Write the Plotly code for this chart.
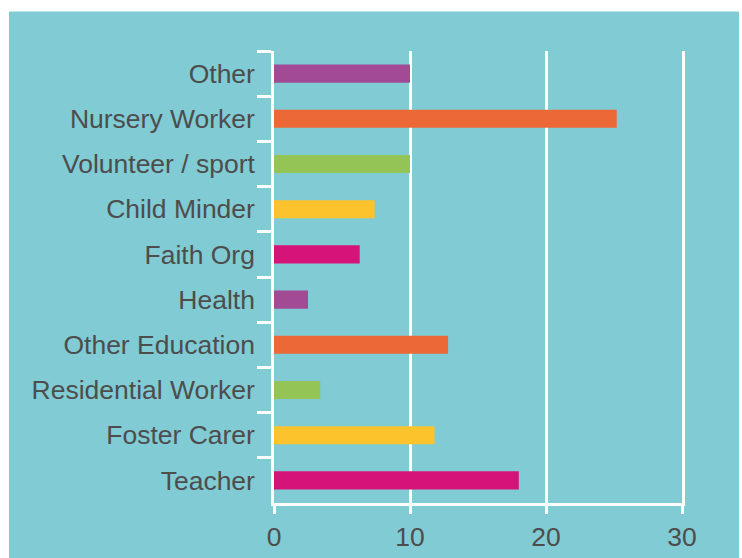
import plotly.graph_objects as go

categories = ["Other", "Nursery Worker", "Volunteer / sport", "Child Minder", "Faith Org",
              "Health", "Other Education", "Residential Worker", "Foster Carer", "Teacher"]
values = [10.0, 25.2, 10.0, 7.4, 6.3, 2.5, 12.8, 3.4, 11.8, 18.0]
bar_colors = ["#A24B94", "#EC6837", "#93C455", "#FDC32D", "#D51378",
              "#A24B94", "#EC6837", "#93C455", "#FDC32D", "#D51378"]
x_ticks = [0, 10, 20, 30]

W, H = 742, 558
L = 274
T = 50.5
R = W - 682
B = H - 503.5
teal = "#80CBD4"
txt = "#4D4D4D"
fs = 26.5

fig = go.Figure(go.Bar(
    y=categories, x=values, orientation="h",
    marker=dict(color=bar_colors, line=dict(width=0)),
    width=0.4,
))

pw = W - L - R
ph = H - T - B
# teal panel from pixel (9,11) to (739,558)
fig.add_shape(type="rect", xref="paper", yref="paper", layer="below",
              x0=(9 - L) / pw, x1=(739 - L) / pw,
              y0=(H - B - 560) / ph, y1=(H - B - 11) / ph,
              fillcolor=teal, line=dict(width=0))

fig.update_layout(
    width=W, height=H,
    margin=dict(l=L, r=R, t=T, b=B, pad=0, autoexpand=False),
    paper_bgcolor="white", plot_bgcolor=teal,
    showlegend=False,
    font=dict(family="Liberation Sans, Arial, sans-serif", size=fs, color=txt),
)
fig.update_xaxes(
    range=[0, 30], tickvals=x_ticks, ticktext=[str(v) for v in x_ticks],
    showgrid=True, gridcolor="white", gridwidth=2.5,
    showline=True, linecolor="white", linewidth=2.5,
    ticks="outside", ticklen=8, tickwidth=2.5, tickcolor="white",
    zeroline=False, tickfont=dict(size=fs, color=txt), automargin=False,
)
fig.update_yaxes(
    autorange="reversed", type="category",
    showline=True, linecolor="white", linewidth=2.5, mirror=True,
    ticks="outside", tickson="boundaries", ticklen=14, tickwidth=2.5, tickcolor="white",
    showgrid=False, zeroline=False, tickfont=dict(size=fs, color=txt),
    ticklabelstandoff=11, automargin=False,
)

fig.write_html("out.html", config={"displayModeBar": False},
               post_script="document.body.style.margin='0';")
